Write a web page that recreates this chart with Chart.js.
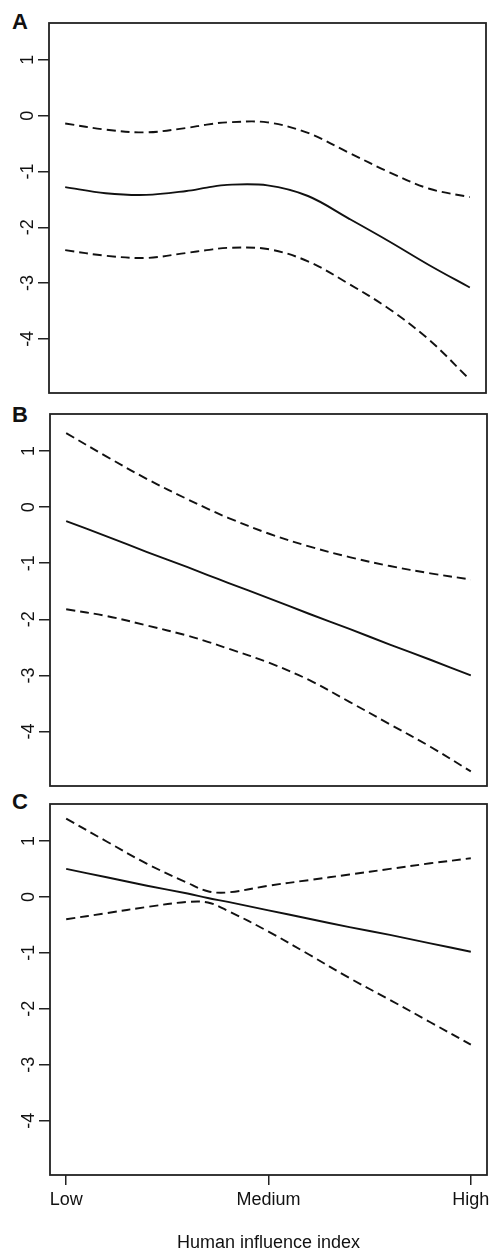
<!DOCTYPE html>
<html>
<head>
<meta charset="utf-8">
<script src="https://cdn.jsdelivr.net/npm/chart.js@4"></script>
<style>
  html, body { margin: 0; padding: 0; background: #fff; overflow: hidden; }
  body { width: 490px; height: 1249px; position: relative; }
  .panel { position: absolute; left: 0; width: 490px; }
  .letter { position: absolute; left: 12px; font: bold 22px "Liberation Sans", Arial, sans-serif; line-height: 1; color: #111; }
</style>
</head>
<body>
<div class="letter" style="top:11px">A</div>
<div class="letter" style="top:404px">B</div>
<div class="letter" style="top:791px">C</div>
<div class="panel" style="top:0px;height:400px"><canvas id="chartA" width="490" height="400"></canvas></div>
<div class="panel" style="top:400px;height:395px"><canvas id="chartB" width="490" height="395"></canvas></div>
<div class="panel" style="top:795px;height:459px"><canvas id="chartC" width="490" height="459"></canvas></div>
<script>
// x positions along the human influence index (0 = Low, 1 = High)
var xValues = [0, 0.1, 0.2, 0.3, 0.35, 0.4, 0.5, 0.6, 0.7, 0.8, 0.9, 1.0];

// panel A
var solidA = [-1.28, -1.39, -1.42, -1.35, -1.29, -1.24, -1.25, -1.44, -1.84, -2.25, -2.68, -3.08];
var upperA = [-0.14, -0.25, -0.30, -0.22, -0.16, -0.12, -0.12, -0.31, -0.66, -1.01, -1.31, -1.46];
var lowerA = [-2.41, -2.51, -2.55, -2.46, -2.41, -2.37, -2.39, -2.61, -3.01, -3.46, -4.02, -4.73];

// panel B
var solidB = [-0.25, -0.52, -0.80, -1.07, -1.21, -1.35, -1.62, -1.90, -2.17, -2.45, -2.72, -3.00];
var upperB = [1.32, 0.90, 0.50, 0.14, -0.03, -0.19, -0.47, -0.70, -0.89, -1.05, -1.18, -1.29];
var lowerB = [-1.82, -1.94, -2.11, -2.29, -2.40, -2.52, -2.77, -3.08, -3.47, -3.87, -4.27, -4.71];

// panel C
var solidC = [0.50, 0.35, 0.20, 0.06, -0.02, -0.09, -0.24, -0.39, -0.54, -0.68, -0.83, -0.98];
var upperC = [1.40, 0.99, 0.59, 0.25, 0.10, 0.08, 0.20, 0.30, 0.40, 0.50, 0.60, 0.69];
var lowerC = [-0.40, -0.29, -0.18, -0.09, -0.10, -0.25, -0.62, -1.03, -1.45, -1.84, -2.24, -2.64];

// axes
var yTicks  = [-4, -3, -2, -1, 0, 1];
var xTicks  = [0, 0.5, 1];
var xLabels = ["Low", "Medium", "High"];
var xTitle  = "Human influence index";

var fontFam = '"Liberation Sans", Arial, sans-serif';
var ink = "#111";

function pts(ys) {
  return xValues.map(function (x, i) { return { x: x, y: ys[i] }; });
}

// draws the full box round the plot area, like R does
var boxPlugin = {
  id: "box",
  afterDraw: function (chart) {
    var a = chart.chartArea, ctx = chart.ctx;
    ctx.save();
    ctx.strokeStyle = "#222";
    ctx.lineWidth = 1.8;
    ctx.strokeRect(a.left, a.top, a.right - a.left, a.bottom - a.top);
    ctx.restore();
  }
};

function makeChart(id, solid, upper, lower, o) {
  var ctx = document.getElementById(id).getContext("2d");
  return new Chart(ctx, {
    type: "line",
    data: {
      datasets: [
        { data: pts(upper), borderColor: ink, borderWidth: 1.9, borderDash: [9, 5], pointRadius: 0, tension: 0.35, fill: false },
        { data: pts(solid), borderColor: ink, borderWidth: 1.9, pointRadius: 0, tension: 0.35, fill: false },
        { data: pts(lower), borderColor: ink, borderWidth: 1.9, borderDash: [9, 5], pointRadius: 0, tension: 0.35, fill: false }
      ]
    },
    plugins: [boxPlugin],
    options: {
      responsive: false,
      animation: false,
      devicePixelRatio: 1,
      layout: { padding: o.padding },
      plugins: { legend: { display: false }, tooltip: { enabled: false } },
      scales: {
        x: {
          type: "linear",
          min: -0.04,
          max: 1.04,
          display: o.showX,
          border: { display: false },
          grid: { display: true, drawOnChartArea: false, drawTicks: true, tickLength: 10, color: "#222", lineWidth: 1.5 },
          afterBuildTicks: function (s) { s.ticks = xTicks.map(function (v) { return { value: v }; }); },
          ticks: {
            padding: 4,
            color: ink,
            font: { family: fontFam, size: 18 },
            maxRotation: 0,
            autoSkip: false,
            callback: function (v) { var i = xTicks.indexOf(v); return i >= 0 ? xLabels[i] : ""; }
          },
          title: { display: true, text: xTitle, color: ink, font: { family: fontFam, size: 18 }, padding: 0 },
          afterFit: function (s) { s.height = o.xHeight || 0; s.paddingLeft = 0; s.paddingRight = 0; }
        },
        y: {
          type: "linear",
          min: -4.97,
          max: 1.66,
          border: { display: false },
          grid: { display: true, drawOnChartArea: false, drawTicks: true, tickLength: 11, color: "#222", lineWidth: 1.5 },
          afterBuildTicks: function (s) { s.ticks = yTicks.map(function (v) { return { value: v }; }); },
          ticks: {
            padding: 2,
            color: ink,
            minRotation: 90,
            maxRotation: 90,
            crossAlign: "center",
            font: { family: fontFam, size: 18 },
            callback: function (v) { return String(v); }
          },
          afterFit: function (s) { s.width = o.yWidth; s.paddingTop = 0; s.paddingBottom = 0; }
        }
      }
    }
  });
}

makeChart("chartA", solidA, upperA, lowerA, { padding: { top: 23, right: 4, bottom: 7, left: 0 }, showX: false, yWidth: 49 });
makeChart("chartB", solidB, upperB, lowerB, { padding: { top: 14, right: 3, bottom: 9, left: 0 }, showX: false, yWidth: 50 });
makeChart("chartC", solidC, upperC, lowerC, { padding: { top: 9, right: 3, bottom: 0, left: 0 }, showX: true, xHeight: 79, yWidth: 50 });
</script>
</body>
</html>
